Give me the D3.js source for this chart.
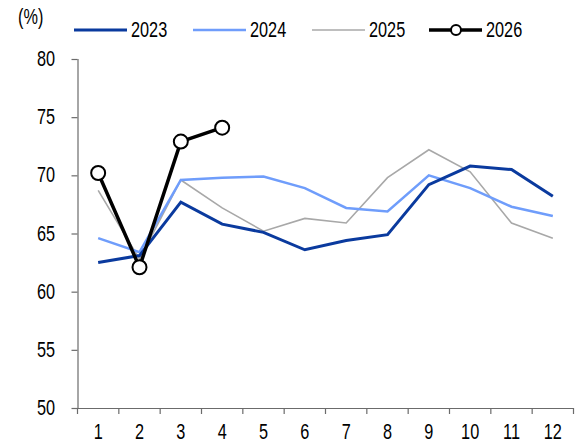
<!DOCTYPE html>
<html><head><meta charset="utf-8">
<script src="https://cdn.jsdelivr.net/npm/d3@7"></script>
<style>
body{margin:0;background:#fff;}
text{font-family:"Liberation Sans",Arial,sans-serif;font-size:22px;fill:#000;}
</style></head>
<body><svg id="c" width="583" height="443"></svg>
<script>
const months = [1,2,3,4,5,6,7,8,9,10,11,12];
const yTicks = [50,55,60,65,70,75,80];
const s2023 = [62.5,63.1,67.7,65.8,65.1,63.6,64.4,64.9,69.2,70.8,70.5,68.2];
const s2024 = [64.6,63.4,69.6,69.8,69.9,68.9,67.2,66.9,70.0,68.9,67.3,66.5];
const s2025 = [68.7,62.8,69.6,67.2,65.2,66.3,65.9,69.8,72.2,70.3,65.9,64.6];
const s2026 = [70.2,62.1,72.9,74.1];
const seriesNames = ["2023","2024","2025","2026"];
const colors = ["#0a3a9e","#6f9dfb","#a8a8a8","#000000"];
const widths = [3,2.5,1.6,3.5];

const svg = d3.select("#c");
const x = d3.scaleBand().domain(months).range([77.5,573.5]);
const y = d3.scaleLinear().domain([50,80]).range([408,59]);
const SX = 0.74;
function label(g, px, py, str, anchor){
  return g.append("text").attr("transform",`translate(${px},${py}) scale(${SX},1)`)
    .attr("text-anchor",anchor||"start").text(str);
}

// y axis
const ya = svg.append("g").attr("transform","translate(77.5,0)")
  .call(d3.axisLeft(y).tickValues(yTicks).tickSize(6).tickFormat(""));
ya.select(".domain").attr("stroke","#6b6b6b").attr("stroke-width",1.2).attr("d","M0.5,59V408");
ya.selectAll(".tick line").attr("stroke","#6b6b6b").attr("stroke-width",1.2);
ya.selectAll(".tick text").remove();
const yl = svg.append("g");
yTicks.forEach(v=>label(yl,55,y(v)+7,String(v),"end"));

// x axis
const xa = svg.append("g").attr("transform","translate(0,408)")
  .call(d3.axisBottom(x).tickSize(0).tickFormat(""));
xa.select(".domain").attr("stroke","#6b6b6b").attr("stroke-width",1.2).attr("d","M77.5,0.5H573.5");
xa.selectAll(".tick text").remove();
const xl = svg.append("g");
months.forEach(m=>label(xl,x(m)+x.bandwidth()/2,439,String(m),"middle"));
const bounds = months.map(m=>x(m)).concat([x(12)+x.bandwidth()]);
svg.append("g").selectAll("line").data(bounds).join("line")
  .attr("x1",d=>d).attr("x2",d=>d).attr("y1",408).attr("y2",414)
  .attr("stroke","#6b6b6b").attr("stroke-width",1.2);

const line = d3.line().x((d,i)=>x(months[i])+x.bandwidth()/2).y(d=>y(d));
const data = [s2023,s2024,s2025,s2026];
[2,1,0,3].forEach(k=>{
  svg.append("path").attr("d",line(data[k])).attr("fill","none")
    .attr("stroke",colors[k]).attr("stroke-width",widths[k]).attr("stroke-linejoin","miter");
});
svg.append("g").selectAll("circle").data(s2026).join("circle")
  .attr("cx",(d,i)=>x(months[i])+x.bandwidth()/2).attr("cy",d=>y(d)).attr("r",7)
  .attr("fill","#fff").attr("stroke","#000").attr("stroke-width",2);

// unit label
label(svg,18,24,"(%)");

// legend
const lx = [74,193,312,429];
const lg = svg.append("g");
seriesNames.forEach((n,k)=>{
  lg.append("line").attr("x1",lx[k]).attr("x2",lx[k]+53).attr("y1",30).attr("y2",30)
    .attr("stroke",colors[k]).attr("stroke-width",widths[k]);
  if(k===3) lg.append("circle").attr("cx",lx[k]+27).attr("cy",30).attr("r",5)
    .attr("fill","#fff").attr("stroke","#000").attr("stroke-width",2);
  label(lg,lx[k]+57,37,n);
});
</script></body></html>
